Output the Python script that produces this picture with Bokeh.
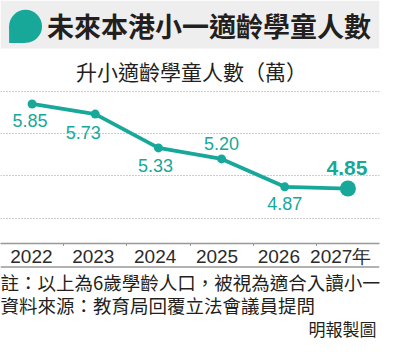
from bokeh.plotting import figure
from bokeh.layouts import column
from bokeh.models import Range1d, LinearAxis, FixedTicker, Grid, Span, ColumnDataSource
from bokeh.core.properties import value
from bokeh.embed import file_html
from bokeh.resources import INLINE

# ---- data ----
years = ["2022", "2023", "2024", "2025", "2026", "2027年"]
students = [5.85, 5.73, 5.33, 5.20, 4.87, 4.85]
grid_ticks = [4.5, 5.0, 5.5, 6.0]
title_text = "未來本港小一適齡學童人數"
subtitle_text = "升小適齡學童人數（萬）"
note_text = "註：以上為6歲學齡人口，被視為適合入讀小一"
source_text = "資料來源：教育局回覆立法會議員提問"
credit_text = "明報製圖"

# ---- styles ----
TEAL = "#17a89a"
W = 387
RB = 8            # right border of the chart
FRAME_W = W - RB
CJK = "Noto Sans CJK TC"
LAT = "Liberation Sans"
label_dx = [-2, -12, -3, 0, 0, -1]
label_dy = [17, 18, 18, -15, 17, -21]


def blank(h):
    f = figure(width=W, height=h, x_range=Range1d(0, W), y_range=Range1d(h, 0),
               output_backend="svg", toolbar_location=None, title=None,
               x_axis_location=None, y_axis_location=None, min_border=0)
    f.grid.visible = False
    f.outline_line_color = None
    f.background_fill_color = "white"
    f.border_fill_color = "white"
    return f


# ---- header ----
top = blank(84)
top.quad(left=[0], right=[W], top=[0], bottom=[48], color="#eeeeee", line_color=None)
top.circle(x=[25.6], y=[25.8], radius=16.8, color=TEAL, line_color=None)
top.quad(left=[8.8], right=[25.6], top=[25.8], bottom=[42.6], color=TEAL, line_color=None)
top.text(x=[213], y=[25], text=[title_text], text_font=value(CJK), text_font_style="bold",
         text_font_size="27px", text_color="#231f20", text_align="center", text_baseline="middle")
top.text(x=[195], y=[70], text=[subtitle_text], text_font=value(CJK),
         text_font_size="21px", text_color="#231f20", text_align="center", text_baseline="middle")

# ---- chart ----
x_idx = [i + 0.5 for i in range(len(years))]
p = figure(width=W, height=162, x_range=Range1d(0, len(years)), y_range=Range1d(4.2, 6.08),
           output_backend="svg", toolbar_location=None, title=None,
           x_axis_location=None, y_axis_location=None,
           min_border_left=0, min_border_right=RB, min_border_top=0, min_border_bottom=3)
p.grid.visible = False
p.outline_line_color = None
p.background_fill_color = "white"
p.border_fill_color = "white"
p.add_layout(Grid(dimension=1, ticker=FixedTicker(ticks=grid_ticks),
                  grid_line_color="#9a9a9a", grid_line_dash="1 2", grid_line_width=1))

# x axis: only the boundary ticks between years (labels drawn below, same scale)
ax = LinearAxis(ticker=FixedTicker(ticks=[], minor_ticks=list(range(1, len(years)))))
ax.axis_line_color = "#999999"
ax.axis_line_width = 1.5
ax.major_tick_line_color = None
ax.major_tick_out = 0
ax.major_tick_in = 0
ax.minor_tick_line_color = "#999999"
ax.minor_tick_out = 3
ax.minor_tick_in = 0
ax.minor_tick_line_width = 1
ax.major_label_standoff = 0
p.add_layout(ax, "below")

src = ColumnDataSource(dict(x=x_idx, y=students,
                            lbl=[f"{v:.2f}" for v in students],
                            dx=label_dx, dy=label_dy))
small = ColumnDataSource({k: v[:-1] for k, v in src.data.items()})
last = ColumnDataSource({k: v[-1:] for k, v in src.data.items()})

p.line("x", "y", source=src, line_color=TEAL, line_width=3.8, line_join="round")
p.scatter("x", "y", source=small, size=9, color=TEAL, line_color=None)
p.scatter("x", "y", source=last, size=16, color=TEAL, line_color=None)
p.text("x", "y", text="lbl", source=small, x_offset="dx", y_offset="dy",
       text_font=value(LAT), text_font_size="18px", text_color=TEAL,
       text_align="center", text_baseline="middle")
p.text("x", "y", text="lbl", source=last, x_offset="dx", y_offset="dy",
       text_font=value(LAT), text_font_size="21px", text_font_style="bold", text_color=TEAL,
       text_align="center", text_baseline="middle")

# ---- year labels + footer ----
FH = 95
foot = blank(FH)
# same horizontal scale as the chart's x axis
foot.extra_x_ranges = {"yr": Range1d(0, len(years) * W / FRAME_W)}
ysrc = ColumnDataSource(dict(x=x_idx, lbl=years, y=[10] * len(years)))
foot.text("x", "y", text="lbl", source=ysrc, x_range_name="yr",
          text_font=value(LAT), text_font_size="19px", text_color="#2b2b2b",
          text_align="center", text_baseline="middle")
foot.add_layout(Span(location=20.5, dimension="width", line_color="#999999", line_width=1.5))
foot.text(x=[0], y=[35], text=[note_text], text_font=value(CJK), text_font_size="18.5px",
          text_color="#231f20", text_align="left", text_baseline="middle")
foot.text(x=[0], y=[58.7], text=[source_text], text_font=value(CJK), text_font_size="18.5px",
          text_color="#231f20", text_align="left", text_baseline="middle")
foot.text(x=[384], y=[81.5], text=[credit_text], text_font=value(CJK), text_font_size="17px",
          text_color="#231f20", text_align="right", text_baseline="middle")

layout = column(top, p, foot)
open("out.html", "w").write(file_html(layout, INLINE))
